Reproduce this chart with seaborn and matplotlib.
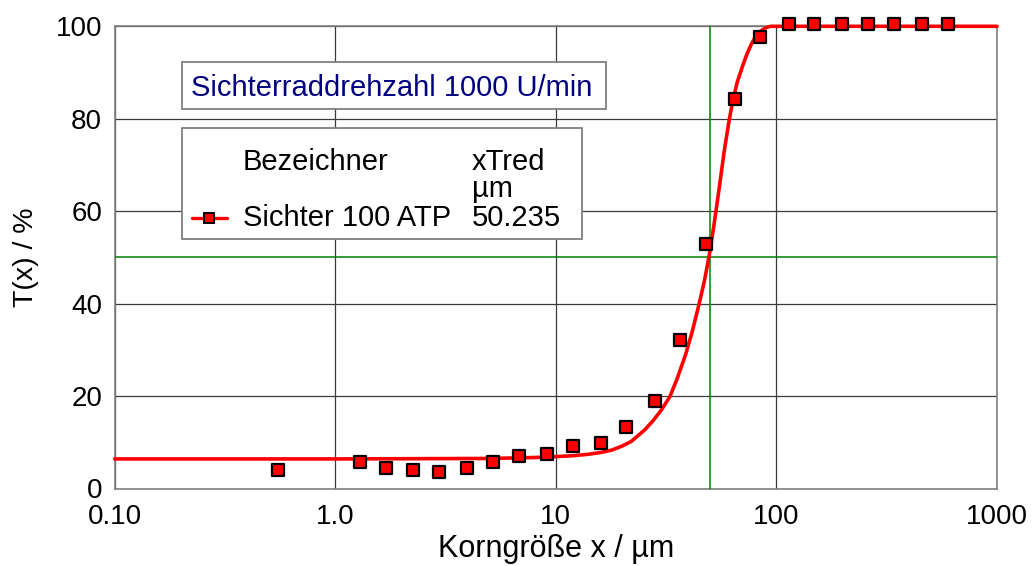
import matplotlib
matplotlib.use("Agg")
import matplotlib.pyplot as plt
from matplotlib.patches import Rectangle
from matplotlib.lines import Line2D
from matplotlib.ticker import FixedLocator, FixedFormatter, NullLocator
import seaborn as sns
import pandas as pd

# Measured points: particle size (µm) and fraction T(x) (%)
size_um = [0.552, 1.30, 1.69, 2.26, 2.96, 3.96, 5.21, 6.84, 9.14, 12.0, 15.96,
           20.9, 28.1, 36.6, 48.0, 64.7, 84.4, 113.7, 148, 198, 261, 342, 459, 600]
t_meas = [4.1, 5.8, 4.5, 4.1, 3.6, 4.5, 5.8, 7.1, 7.5, 9.3, 9.8,
          13.3, 18.9, 32.2, 53.0, 84.2, 97.6, 100.6, 100.6, 100.6, 100.6, 100.6, 100.6, 100.6]

# Fitted separation curve
fit_x = [0.1, 1.0, 5.0, 8.0, 10.0, 12.0, 14.0, 16.0, 17.9, 20.0, 22.0, 25.3, 27.5, 30.0,
         32.9, 35.5, 38.7, 41.5, 44.5, 47.0, 49.5, 52.1, 55.0, 58.0, 61.0, 63.5,
         66.5, 70.5, 73.5, 76.9, 80.5, 85.0, 89.5, 94.0, 1000.0]
fit_y = [6.4, 6.4, 6.5, 6.7, 6.9, 7.1, 7.4, 7.8, 8.3, 9.2, 10.2, 12.7, 14.6, 16.9,
         19.9, 23.8, 28.9, 33.9, 39.7, 44.6, 50.2, 57.0, 64.9, 73.0, 79.6, 84.0,
         88.0, 91.6, 94.0, 96.1, 97.8, 99.0, 99.7, 100.0, 100.0]

x_ticks = [0.1, 1, 10, 100, 1000]
x_tick_labels = ["0.10", "1.0", "10", "100", "1000"]
y_ticks = [0, 20, 40, 60, 80, 100]

x_cut = 50.235
t_cut = 50.0

title_text = "Sichterraddrehzahl 1000 U/min"
legend_head = ["Bezeichner", "xTred", "µm"]
series_name = "Sichter 100 ATP"
series_value = "50.235"

sns.set_style("white")
plt.rcParams["font.family"] = ["Liberation Sans", "DejaVu Sans"]
plt.rcParams["text.color"] = "black"
plt.rcParams["axes.labelcolor"] = "black"

W, H = 1034, 566
fig = plt.figure(figsize=(W / 100, H / 100), dpi=100)
ax_l, ax_r, ax_t, ax_b = 114.7, 997.0, 26.3, 488.5
ax = fig.add_axes([ax_l / W, 1 - ax_b / H, (ax_r - ax_l) / W, (ax_b - ax_t) / H])


def fx(px):
    return px / W


def fy(py):
    return 1 - py / H


red = "#ff0000"
green = "#008000"
box_fs = 21

ax.set_xscale("log")
ax.set_xlim(0.1, 1000)
ax.set_ylim(0, 100)

fit_df = pd.DataFrame({"x": fit_x, "T": fit_y})
meas_df = pd.DataFrame({"x": size_um, "T": t_meas})

sns.lineplot(data=fit_df, x="x", y="T", ax=ax, color=red, linewidth=2.6,
             zorder=4, sort=False, clip_on=False)
sns.scatterplot(data=meas_df, x="x", y="T", ax=ax, marker="s", s=66,
                color=red, edgecolor="black", linewidth=1.6, zorder=5, clip_on=False)

ax.axvline(x_cut, color=green, linewidth=1.1, zorder=3)
ax.axhline(t_cut, color=green, linewidth=1.1, zorder=3)

ax.xaxis.set_major_locator(FixedLocator(x_ticks))
ax.xaxis.set_major_formatter(FixedFormatter(x_tick_labels))
ax.xaxis.set_minor_locator(NullLocator())
ax.set_yticks(y_ticks)
ax.tick_params(axis="both", length=0, labelsize=20, colors="black")
ax.tick_params(axis="x", pad=11)
ax.tick_params(axis="y", pad=9)

ax.grid(True, color="#3a3a3a", linewidth=0.9, zorder=1)
ax.set_axisbelow(True)
for sp in ax.spines.values():
    sp.set_visible(True)
    sp.set_color("#808080")
    sp.set_linewidth(1.2)

ax.set_xlabel("Korngröße x / µm", fontsize=22, labelpad=3, color="black")
ax.set_ylabel("T(x) / %", fontsize=20.5, labelpad=12, color="black")

# Title box
fig.patches.append(Rectangle((fx(181.7), fy(108.7)), fx(606) - fx(181.7), fy(62) - fy(108.7),
                             transform=fig.transFigure, facecolor="white",
                             edgecolor="#808080", linewidth=1.3, zorder=6))
fig.text(fx(190.7), fy(96), title_text, color="#000080", fontsize=box_fs,
         va="baseline", ha="left", zorder=7)

# Legend box
fig.patches.append(Rectangle((fx(181.7), fy(239)), fx(582.3) - fx(181.7), fy(128.3) - fy(239),
                             transform=fig.transFigure, facecolor="white",
                             edgecolor="#808080", linewidth=1.3, zorder=6))
legend_texts = [
    (242.7, 170, legend_head[0]),
    (471.7, 170, legend_head[1]),
    (471.7, 196.7, legend_head[2]),
    (242.7, 225.7, series_name),
    (471.7, 225.7, series_value),
]
for px, py, txt in legend_texts:
    fig.text(fx(px), fy(py), txt, fontsize=box_fs, color="black",
             va="baseline", ha="left", zorder=7)
fig.lines.append(Line2D([fx(191.7), fx(227.3)], [fy(217.7), fy(217.7)], transform=fig.transFigure,
                        color=red, linewidth=2.4, zorder=7))
fig.lines.append(Line2D([fx(209.0)], [fy(217.7)], transform=fig.transFigure, marker="s",
                        markersize=6.5, markerfacecolor=red, markeredgecolor="black",
                        markeredgewidth=1.4, linestyle="none", zorder=8))

fig.savefig("out.png", dpi=100)
